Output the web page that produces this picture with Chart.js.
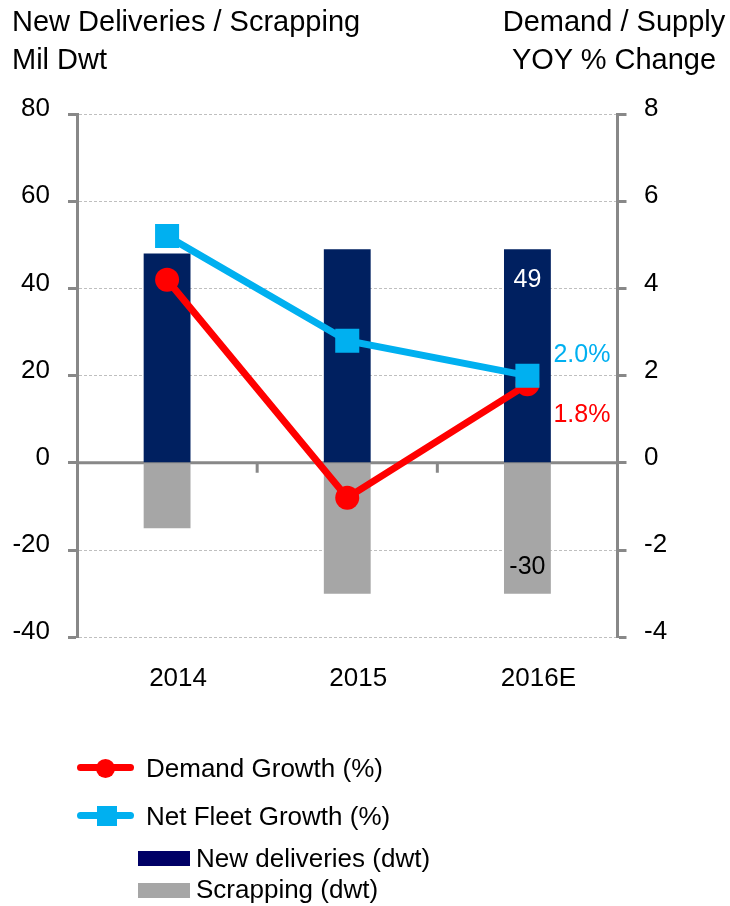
<!DOCTYPE html>
<html>
<head>
<meta charset="utf-8">
<script src="https://cdn.jsdelivr.net/npm/chart.js@4"></script>
<style>
  body { margin: 0; background: #fff; }
  #wrap { position: relative; width: 730px; height: 906px; font-family: "Liberation Sans", Arial, sans-serif; color: #000; }
  #myChart { position: absolute; left: 0; top: 0; }
  .title { position: absolute; top: 2px; font-size: 29px; line-height: 38px; white-space: nowrap; }
  .leg { position: absolute; font-size: 26px; line-height: 30px; height: 30px; white-space: nowrap; }
  .sw { position: absolute; }
</style>
</head>
<body>
<div id="wrap">
  <canvas id="myChart" width="730" height="906"></canvas>
  <div class="title" style="left:12px;">New Deliveries / Scrapping<br>Mil Dwt</div>
  <div class="title" style="left:496px;width:236px;text-align:center;">Demand / Supply<br>YOY % Change</div>

  <div class="sw" style="left:77px;top:764px;width:57px;height:7px;border-radius:4px;background:#ff0000;"></div>
  <div class="sw" style="left:96px;top:759px;width:19px;height:19px;border-radius:50%;background:#ff0000;"></div>
  <div class="leg" style="left:146px;top:753px;">Demand Growth (%)</div>

  <div class="sw" style="left:77px;top:812px;width:57px;height:7px;border-radius:4px;background:#00b0f0;"></div>
  <div class="sw" style="left:97px;top:806px;width:20px;height:20px;background:#00b0f0;"></div>
  <div class="leg" style="left:146px;top:801px;">Net Fleet Growth (%)</div>

  <div class="sw" style="left:138px;top:851px;width:52px;height:15px;background:#000066;"></div>
  <div class="leg" style="left:196px;top:843px;">New deliveries (dwt)</div>

  <div class="sw" style="left:138px;top:883px;width:52px;height:15px;background:#a6a6a6;"></div>
  <div class="leg" style="left:196px;top:874px;">Scrapping (dwt)</div>
</div>
<script>
const categories = ['2014', '2015', '2016E'];
const newDeliveries = [48, 49, 49];
const scrapping = [-15, -30, -30];
const demandGrowth = [4.2, -0.8, 1.8];
const netFleetGrowth = [5.2, 2.8, 2.0];
const dwtRange = [-40, 80, 20];
const pctRange = [-4, 8, 2];

const FONT = '"Liberation Sans", Arial, sans-serif';
const AXIS_GREY = '#888888';

// zero line with small ticks between the categories
const zeroLine = {
  id: 'zeroLine',
  beforeDatasetsDraw(chart) {
    const {ctx, chartArea, scales} = chart;
    const y0 = scales.y.getPixelForValue(0);
    const step = (chartArea.right - chartArea.left) / categories.length;
    ctx.save();
    ctx.strokeStyle = AXIS_GREY;
    ctx.lineWidth = 3;
    ctx.beginPath();
    ctx.moveTo(chartArea.left, y0);
    ctx.lineTo(chartArea.right, y0);
    for (let i = 1; i < categories.length; i++) {
      const x = chartArea.left + i * step;
      ctx.moveTo(x, y0);
      ctx.lineTo(x, y0 + 10);
    }
    ctx.stroke();
    ctx.restore();
  }
};

// value labels on the last category
const lastLabels = {
  id: 'lastLabels',
  afterDatasetsDraw(chart) {
    const {ctx} = chart;
    const last = categories.length - 1;
    const pt = (ds) => chart.getDatasetMeta(ds).data[last];
    ctx.save();
    ctx.font = '25px ' + FONT;
    ctx.textBaseline = 'middle';

    ctx.textAlign = 'center';
    ctx.fillStyle = '#ffffff';
    ctx.fillText(String(newDeliveries[last]), pt(2).x, pt(2).y + 31);
    ctx.fillStyle = '#000000';
    ctx.fillText(String(scrapping[last]), pt(3).x, pt(3).y - 27);

    ctx.textAlign = 'left';
    ctx.fillStyle = '#00b0f0';
    ctx.fillText(netFleetGrowth[last].toFixed(1) + '%', pt(1).x + 26, pt(1).y - 21);
    ctx.fillStyle = '#ff0000';
    ctx.fillText(demandGrowth[last].toFixed(1) + '%', pt(0).x + 26, pt(0).y + 31);
    ctx.restore();
  }
};

const ctx = document.getElementById('myChart').getContext('2d');

const myChart = new Chart(ctx, {
  data: {
    labels: categories,
    datasets: [
      {
        type: 'line',
        label: 'Demand Growth (%)',
        data: demandGrowth,
        yAxisID: 'y1',
        borderColor: '#ff0000',
        backgroundColor: '#ff0000',
        borderWidth: 7,
        pointRadius: 12,
        pointBorderWidth: 0,
        pointBackgroundColor: '#ff0000',
        tension: 0,
        order: 2
      },
      {
        type: 'line',
        label: 'Net Fleet Growth (%)',
        data: netFleetGrowth,
        yAxisID: 'y1',
        borderColor: '#00b0f0',
        backgroundColor: '#00b0f0',
        borderWidth: 7,
        pointStyle: 'rect',
        pointRadius: 17,
        pointBorderWidth: 0,
        pointBackgroundColor: '#00b0f0',
        tension: 0,
        order: 1
      },
      {
        type: 'bar',
        label: 'New deliveries (dwt)',
        data: newDeliveries,
        yAxisID: 'y',
        backgroundColor: '#002060',
        grouped: false,
        categoryPercentage: 1,
        barPercentage: 0.26,
        order: 3
      },
      {
        type: 'bar',
        label: 'Scrapping (dwt)',
        data: scrapping,
        yAxisID: 'y',
        backgroundColor: '#a6a6a6',
        grouped: false,
        categoryPercentage: 1,
        barPercentage: 0.26,
        order: 3
      }
    ]
  },
  options: {
    responsive: false,
    animation: false,
    layout: { padding: { top: 114, left: 0, right: 0, bottom: 0 } },
    plugins: {
      legend: { display: false },
      tooltip: { enabled: false }
    },
    scales: {
      x: {
        grid: { display: false, drawTicks: false },
        border: { display: false },
        ticks: { color: '#000', font: { family: FONT, size: 26 }, padding: 26, labelOffset: 11 },
        afterFit(scale) { scale.height = 268.7; }
      },
      y: {
        position: 'left',
        min: dwtRange[0],
        max: dwtRange[1],
        ticks: { stepSize: dwtRange[2], color: '#000', font: { family: FONT, size: 26 }, padding: 18, labelOffset: -5 },
        grid: { color: '#bfbfbf', lineWidth: 1, tickLength: 9, tickColor: AXIS_GREY, tickWidth: 3, tickBorderDash: [] },
        border: { display: true, color: AXIS_GREY, width: 3, dash: [3, 2] },
        afterFit(scale) { scale.width = 77; }
      },
      y1: {
        position: 'right',
        min: pctRange[0],
        max: pctRange[1],
        ticks: { stepSize: pctRange[2], color: '#000', font: { family: FONT, size: 26 }, padding: 17.5, labelOffset: -5 },
        grid: { drawOnChartArea: false, tickLength: 9, tickColor: AXIS_GREY, tickWidth: 3 },
        border: { display: true, color: AXIS_GREY, width: 3 },
        afterFit(scale) { scale.width = 112.5; }
      }
    }
  },
  plugins: [zeroLine, lastLabels]
});
</script>
</body>
</html>
